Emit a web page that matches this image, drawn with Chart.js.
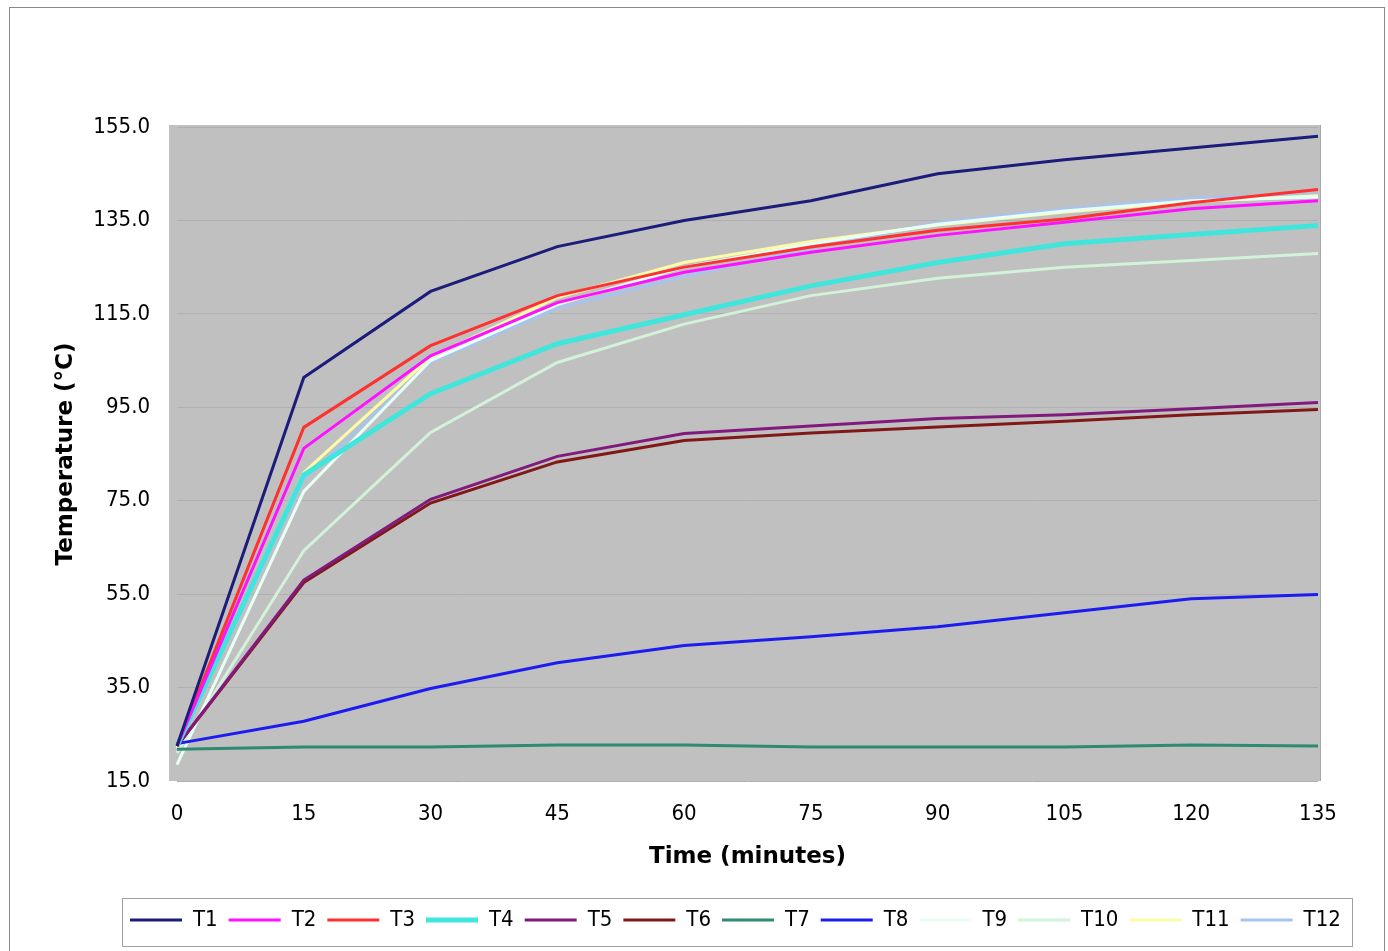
<!DOCTYPE html>
<html>
<head>
<meta charset="utf-8">
<script src="https://cdn.jsdelivr.net/npm/chart.js@4.4.1/dist/chart.umd.min.js"></script>
<style>
  html, body { margin: 0; padding: 0; background: #ffffff; }
  #frame {
    position: absolute; left: 9px; top: 7px; width: 1376px; height: 944px;
    border: 1px solid #8a8a8a; border-bottom: none; box-sizing: border-box;
  }
  #wrap { position: absolute; left: 0; top: 0; width: 1388px; height: 951px; }
</style>
</head>
<body>
<div id="frame"></div>
<div id="wrap"><canvas id="tempChart"></canvas></div>
<script>
'use strict';

// Time axis (minutes)
const timeLabels = ['0', '15', '30', '45', '60', '75', '90', '105', '120', '135'];

// Series values (deg C)
const t1  = [22.5, 101.4, 119.8, 129.4, 135.0, 139.2, 145.0, 148.0, 150.5, 153.0];
const t2  = [22.5, 86.2, 106.0, 117.4, 123.9, 128.2, 131.8, 134.6, 137.5, 139.2];
const t3  = [22.5, 90.7, 108.2, 118.9, 125.0, 129.3, 132.9, 135.3, 138.8, 141.6];
const t4  = [22.5, 80.5, 97.9, 108.6, 114.8, 121.0, 126.0, 130.0, 132.0, 133.9];
const t5  = [22.5, 58.0, 75.3, 84.5, 89.4, 91.0, 92.6, 93.4, 94.7, 96.0];
const t6  = [22.5, 57.5, 74.5, 83.3, 87.9, 89.5, 90.8, 92.0, 93.4, 94.5];
const t7  = [21.8, 22.3, 22.3, 22.7, 22.7, 22.3, 22.3, 22.3, 22.7, 22.5];
const t8  = [23.0, 27.8, 34.8, 40.3, 44.0, 45.9, 48.0, 51.0, 54.0, 54.9];
const t9  = [18.5, 77.0, 105.0, 117.0, 125.0, 130.0, 134.2, 137.0, 139.2, 140.0];
const t10 = [21.0, 64.3, 89.6, 104.6, 112.8, 118.9, 122.6, 125.0, 126.4, 127.9];
const t11 = [22.0, 81.0, 105.7, 118.5, 126.0, 130.5, 134.0, 136.8, 139.0, 140.3];
const t12 = [22.0, 79.5, 104.6, 116.2, 123.0, 129.0, 134.6, 137.5, 139.8, 140.6];

const seriesNames  = ['T1', 'T2', 'T3', 'T4', 'T5', 'T6', 'T7', 'T8', 'T9', 'T10', 'T11', 'T12'];
const seriesData   = [t1, t2, t3, t4, t5, t6, t7, t8, t9, t10, t11, t12];
const seriesColors = ['#1c1c7a', '#ff10ff', '#ff3030', '#40e6dc', '#821a7e', '#801818',
                      '#2f8a72', '#1c1cf0', '#e8fff4', '#d2f2da', '#fbfba8', '#a8c4ee'];
const seriesWidths = [3, 3, 3, 5, 3, 3, 3, 3, 3, 3, 3, 3];

// Y ticks every 20 from 15 to 155
const yMin = 15;
const yMax = 155;
const yStep = 20;

const tickFont = "'DejaVu Sans Condensed', 'DejaVu Sans', sans-serif";
const titleFont = "'DejaVu Sans', sans-serif";

/**
 * Gray plot background, a little wider than the data range
 */
const plotBackground = {
    id: 'plotBackground',
    beforeDraw(chart) {
        const a = chart.chartArea;
        const ctx = chart.ctx;
        ctx.save();
        ctx.fillStyle = '#c0c0c0';
        ctx.fillRect(a.left - 8, a.top - 2, a.right - a.left + 11, a.bottom - a.top + 2);
        ctx.fillStyle = '#a8a8a8';
        ctx.fillRect(a.right + 2, a.top - 2, 1, a.bottom - a.top + 2);
        ctx.restore();
    }
};

/**
 * Place the legend in its own box and draw the border
 */
const legendFrame = {
    id: 'legendFrame',
    afterLayout(chart) {
        const lg = chart.legend;
        if (!lg) return;
        lg.left = 119;
        lg.right = 1386;
        lg.width = lg.right - lg.left;
    },
    afterDraw(chart) {
        const lg = chart.legend;
        if (!lg) return;
        const ctx = chart.ctx;
        ctx.save();
        ctx.strokeStyle = '#a0a0a0';
        ctx.lineWidth = 1;
        ctx.strokeRect(122.5, lg.top + 0.5, 1230, 48);
        ctx.restore();
    }
};

function buildDatasets() {
    return seriesNames.map((name, i) => ({
        label: name,
        data: seriesData[i],
        borderColor: seriesColors[i],
        backgroundColor: seriesColors[i],
        borderWidth: seriesWidths[i],
        pointRadius: 0,
        pointHoverRadius: 0,
        fill: false,
        tension: 0
    }));
}

new Chart(document.getElementById('tempChart'), {
    type: 'line',
    data: {
        labels: timeLabels,
        datasets: buildDatasets()
    },
    options: {
        responsive: true,
        maintainAspectRatio: false,
        animation: false,
        layout: {
            padding: { left: 10, right: 70, top: 127, bottom: 10 }
        },
        plugins: {
            tooltip: { enabled: false },
            legend: {
                position: 'bottom',
                align: 'start',
                labels: {
                    usePointStyle: true,
                    pointStyle: 'line',
                    pointStyleWidth: 52,
                    boxHeight: 4,
                    padding: 11,
                    color: '#000',
                    font: { family: tickFont, size: 22 }
                }
            }
        },
        scales: {
            x: {
                offset: false,
                afterFit: function(scale) { scale.height = 117; },
                grid: { display: false, drawTicks: false },
                border: { display: false },
                ticks: {
                    color: '#000',
                    padding: 20,
                    maxRotation: 0,
                    font: { family: tickFont, size: 22 }
                },
                title: {
                    display: true,
                    text: 'Time (minutes)',
                    color: '#000',
                    font: { family: titleFont, size: 23, weight: 'bold' },
                    padding: { top: 0, bottom: 27 }
                }
            },
            y: {
                min: yMin,
                max: yMax,
                afterFit: function(scale) { scale.width = 167; },
                grid: { color: '#b0b0b0', lineWidth: 1, drawTicks: false },
                border: { display: false },
                ticks: {
                    stepSize: yStep,
                    color: '#000',
                    padding: 27,
                    font: { family: tickFont, size: 22 },
                    callback: function(v) { return Number(v).toFixed(1); }
                },
                title: {
                    display: true,
                    text: 'Temperature (°C)',
                    color: '#000',
                    font: { family: titleFont, size: 23, weight: 'bold' },
                    padding: { top: 42, bottom: 0 }
                }
            }
        }
    },
    plugins: [plotBackground, legendFrame]
});
</script>
</body>
</html>
